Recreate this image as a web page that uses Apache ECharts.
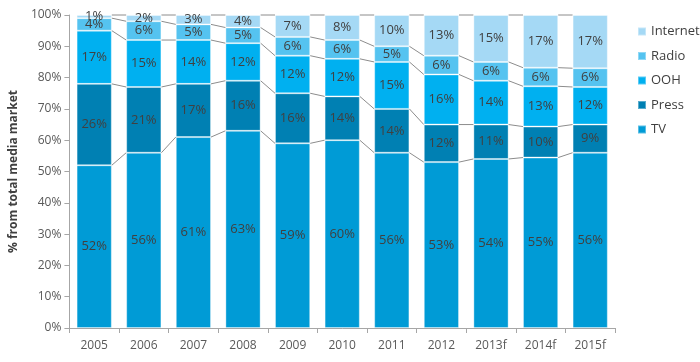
<!DOCTYPE html>
<html><head><meta charset="utf-8">
<script src="https://cdn.jsdelivr.net/npm/echarts@6/dist/echarts.min.js"></script>
<style>html,body{margin:0;padding:0;background:#fff}#c{width:700px;height:362px}</style>
</head><body><div id="c"></div>
<script>
const categories = ['2005','2006','2007','2008','2009','2010','2011','2012','2013f','2014f','2015f'];
const tv       = [52,56,61,63,59,60,56,53,54,55,56];
const press    = [26,21,17,16,16,14,14,12,11,10,9];
const ooh      = [17,15,14,12,12,12,15,16,14,13,12];
const radio    = [4,6,5,5,6,6,5,6,6,6,6];
const internet = [1,2,3,4,7,8,10,13,15,17,17];
const yTicks = ['0%','10%','20%','30%','40%','50%','60%','70%','80%','90%','100%'];

const seriesDefs = [
  {name:'TV', data:tv, color:'#009BD6'},
  {name:'Press', data:press, color:'#0080B3'},
  {name:'OOH', data:ooh, color:'#00B0F0'},
  {name:'Radio', data:radio, color:'#55C3F0'},
  {name:'Internet', data:internet, color:'#A5D9F5'}
];
const totals = categories.map((_, i) => seriesDefs.reduce((s, d) => s + d.data[i], 0));
const bounds = categories.map((_, i) => {
  let acc = 0; const b = [];
  seriesDefs.forEach(d => { acc += d.data[i] / totals[i] * 100; b.push(acc); });
  return b;
});
const GAP = 0.29;
const chart = echarts.init(document.getElementById('c'), null, {renderer:'canvas'});
const series = seriesDefs.map(d => ({
  name: d.name, type: 'bar', stack: 'all', barCategoryGap: '29%',
  itemStyle: {color: d.color, borderColor: 'rgba(255,255,255,0.35)', borderWidth: 1},
  label: {show: true, position: 'inside', color: '#404040', fontSize: 13,
          fontFamily: 'Open Sans', formatter: p => d.data[p.dataIndex] + '%'},
  data: d.data.map((v, i) => ({value: v / totals[i] * 100}))
}));
series.push({
  type: 'custom', name: 'lines', silent: true, z: 1,
  data: categories.slice(0, -1).map((_, i) => i),
  renderItem: (params, api) => {
    const i = api.value(0);
    const band = api.size([1, 0])[0];
    const half = band * (1 - GAP) / 2;
    const children = bounds[i].map((b, k) => {
      const p1 = api.coord([i, b]);
      const p2 = api.coord([i + 1, bounds[i + 1][k]]);
      return {type: 'line', shape: {x1: p1[0] + half, y1: p1[1], x2: p2[0] - half, y2: p2[1]},
              style: {stroke: '#8c8c8c', lineWidth: 1}};
    });
    return {type: 'group', children};
  },
  encode: {x: 0}
});
chart.setOption({
  animation: false,
  textStyle: {fontFamily: 'Open Sans'},
  grid: {left: 61, right: 85, top: 15, bottom: 34},
  legend: {
    orient: 'vertical', left: 632, top: 20, itemGap: 11.5, itemWidth: 8, itemHeight: 8,
    icon: 'rect', textStyle: {color: '#404040', fontSize: 13, fontFamily: 'Open Sans'},
    data: ['Internet', 'Radio', 'OOH', 'Press', 'TV']
  },
  xAxis: {
    type: 'category', data: categories,
    axisLine: {lineStyle: {color: '#a6a6a6'}},
    axisTick: {show: true, lineStyle: {color: '#a6a6a6'}, length: 5},
    axisLabel: {color: '#595959', fontSize: 12, margin: 12}
  },
  yAxis: {
    type: 'value', min: 0, max: 100, interval: 10,
    name: '% from total media market', nameLocation: 'middle', nameGap: 44,
    nameTextStyle: {fontWeight: 'bold', color: '#404040', fontSize: 12},
    axisLine: {show: true, lineStyle: {color: '#a6a6a6'}},
    axisTick: {show: true, lineStyle: {color: '#a6a6a6'}, length: 5},
    splitLine: {show: false},
    axisLabel: {color: '#595959', fontSize: 12, formatter: v => yTicks[Math.round(v / 10)]}
  },
  series
});
</script></body></html>
